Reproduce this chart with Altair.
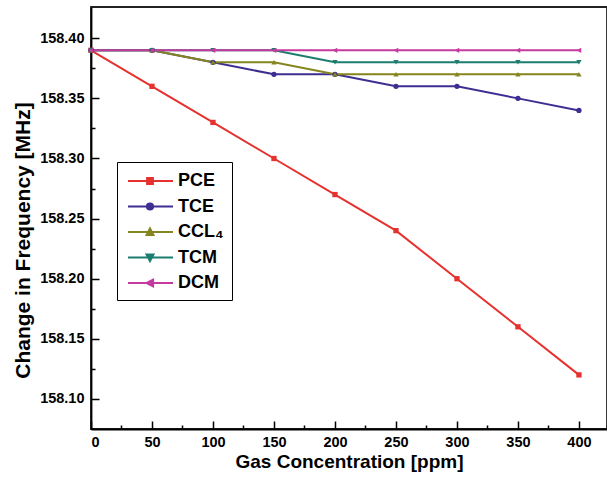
import altair as alt
import pandas as pd

# ---- data ----
x_vals = [0, 50, 100, 150, 200, 250, 300, 350, 400]
series_names = ["PCE", "TCE", "CCL₄", "TCM", "DCM"]
pce = [158.39, 158.36, 158.33, 158.30, 158.27, 158.24, 158.20, 158.16, 158.12]
tce = [158.39, 158.39, 158.38, 158.37, 158.37, 158.36, 158.36, 158.35, 158.34]
ccl4 = [158.39, 158.39, 158.38, 158.38, 158.37, 158.37, 158.37, 158.37, 158.37]
tcm = [158.39, 158.39, 158.39, 158.39, 158.38, 158.38, 158.38, 158.38, 158.38]
dcm = [158.39, 158.39, 158.39, 158.39, 158.39, 158.39, 158.39, 158.39, 158.39]

x_ticks = [0, 25, 50, 75, 100, 125, 150, 175, 200, 225, 250, 275, 300, 325, 350, 375, 400]
y_ticks = [158.10, 158.125, 158.15, 158.175, 158.20, 158.225, 158.25, 158.275,
           158.30, 158.325, 158.35, 158.375, 158.40]

colors = ["#e5322f", "#3e2e92", "#85851f", "#1d7d70", "#c43a9e"]
shapes = ["square", "circle", "triangle-up", "triangle-down", "triangle-left"]
legend_paths = [
    "M-0.8,0H3.7M1.1,-0.3H1.7V0.3H1.1Z",
    "M-0.8,0H3.7M1.08,0A0.32,0.32 0 1,0 1.72,0A0.32,0.32 0 1,0 1.08,0Z",
    "M-0.8,0H3.7M1.4,-0.38L1.76,0.3H1.04Z",
    "M-0.8,0H3.7M1.4,0.38L1.76,-0.3H1.04Z",
    "M-0.8,0H3.7M1.02,0L1.72,-0.36V0.36Z",
]

rows = []
for name, vals in zip(series_names, [pce, tce, ccl4, tcm, dcm]):
    for xv, yv in zip(x_vals, vals):
        rows.append({"series": name, "conc": xv, "freq": yv})
df = pd.DataFrame(rows)

FONT = "Liberation Sans"

x_enc = alt.X(
    "conc:Q",
    scale=alt.Scale(domain=[0, 423], nice=False),
    axis=alt.Axis(
        title="Gas Concentration [ppm]",
        values=x_ticks,
        labelExpr="datum.value % 50 === 0 ? datum.label : ''",
        tickSize={"condition": {"test": "datum.value % 50 === 0", "expr": "-8"}, "expr": "-4"},
        labelPadding=14,
        titlePadding=4,
        titleFontSize=19,
        grid=False,
    ),
)
y_enc = alt.Y(
    "freq:Q",
    scale=alt.Scale(domain=[158.075, 158.426], nice=False, zero=False),
    axis=alt.Axis(
        title="Change in Frequency [MHz]",
        values=y_ticks,
        format=".2f",
        labelExpr="round(datum.value * 1000) % 50 === 0 ? datum.label : ''",
        tickSize={"condition": {"test": "round(datum.value * 1000) % 50 === 0", "expr": "-8"}, "expr": "-4"},
        labelPadding=15,
        titleFontSize=21,
        titleX=-58,
        titleY=233,
        grid=False,
    ),
)

base = alt.Chart(df)

lines = base.mark_line(strokeWidth=2).encode(
    x=x_enc,
    y=y_enc,
    color=alt.Color("series:N", scale=alt.Scale(domain=series_names, range=colors), legend=None),
)

points = base.mark_point(filled=True, size=28, opacity=1).encode(
    x=x_enc,
    y=y_enc,
    color=alt.Color("series:N", scale=alt.Scale(domain=series_names, range=colors), legend=None),
    shape=alt.Shape("series:N", scale=alt.Scale(domain=series_names, range=shapes), legend=None),
)

leg = alt.Legend(
    title=None,
    orient="none",
    legendX=26,
    legendY=155,
    fillColor="white",
    strokeColor="black",
    padding=8,
    symbolSize=400,
    symbolStrokeWidth=1.8,
    symbolOpacity=1,
    labelFont=FONT,
    labelFontWeight="bold",
    labelFontSize=18,
    labelOffset=31,
    labelColor="black",
    rowPadding=5.5,
)

legend_layer = base.mark_point(filled=True, opacity=0, size=400).encode(
    x=x_enc,
    y=y_enc,
    fill=alt.Fill("series:N", scale=alt.Scale(domain=series_names, range=colors), legend=leg),
    stroke=alt.Stroke("series:N", scale=alt.Scale(domain=series_names, range=colors), legend=leg),
    shape=alt.Shape("series:N", scale=alt.Scale(domain=series_names, range=legend_paths), legend=leg),
)

chart = (
    alt.layer(lines, points, legend_layer)
    .resolve_scale(color="independent", shape="independent", fill="independent", stroke="independent")
    .properties(
        width=516,
        height=422,
        autosize=alt.AutoSizeParams(type="none"),
        padding={"left": 91, "top": 7, "right": 0, "bottom": 49},
        background="white",
    )
    .configure_view(stroke="#222222", strokeWidth=1.8)
    .configure_axis(
        domainColor="black",
        domainWidth=1.8,
        tickColor="black",
        tickWidth=1.5,
        labelFont=FONT,
        labelFontWeight="bold",
        labelFontSize=14.5,
        labelColor="black",
        titleFont=FONT,
        titleFontWeight="bold",
        titleColor="black",
    )
)

chart.save("out.html", embed_options={"renderer": "svg", "actions": False})
